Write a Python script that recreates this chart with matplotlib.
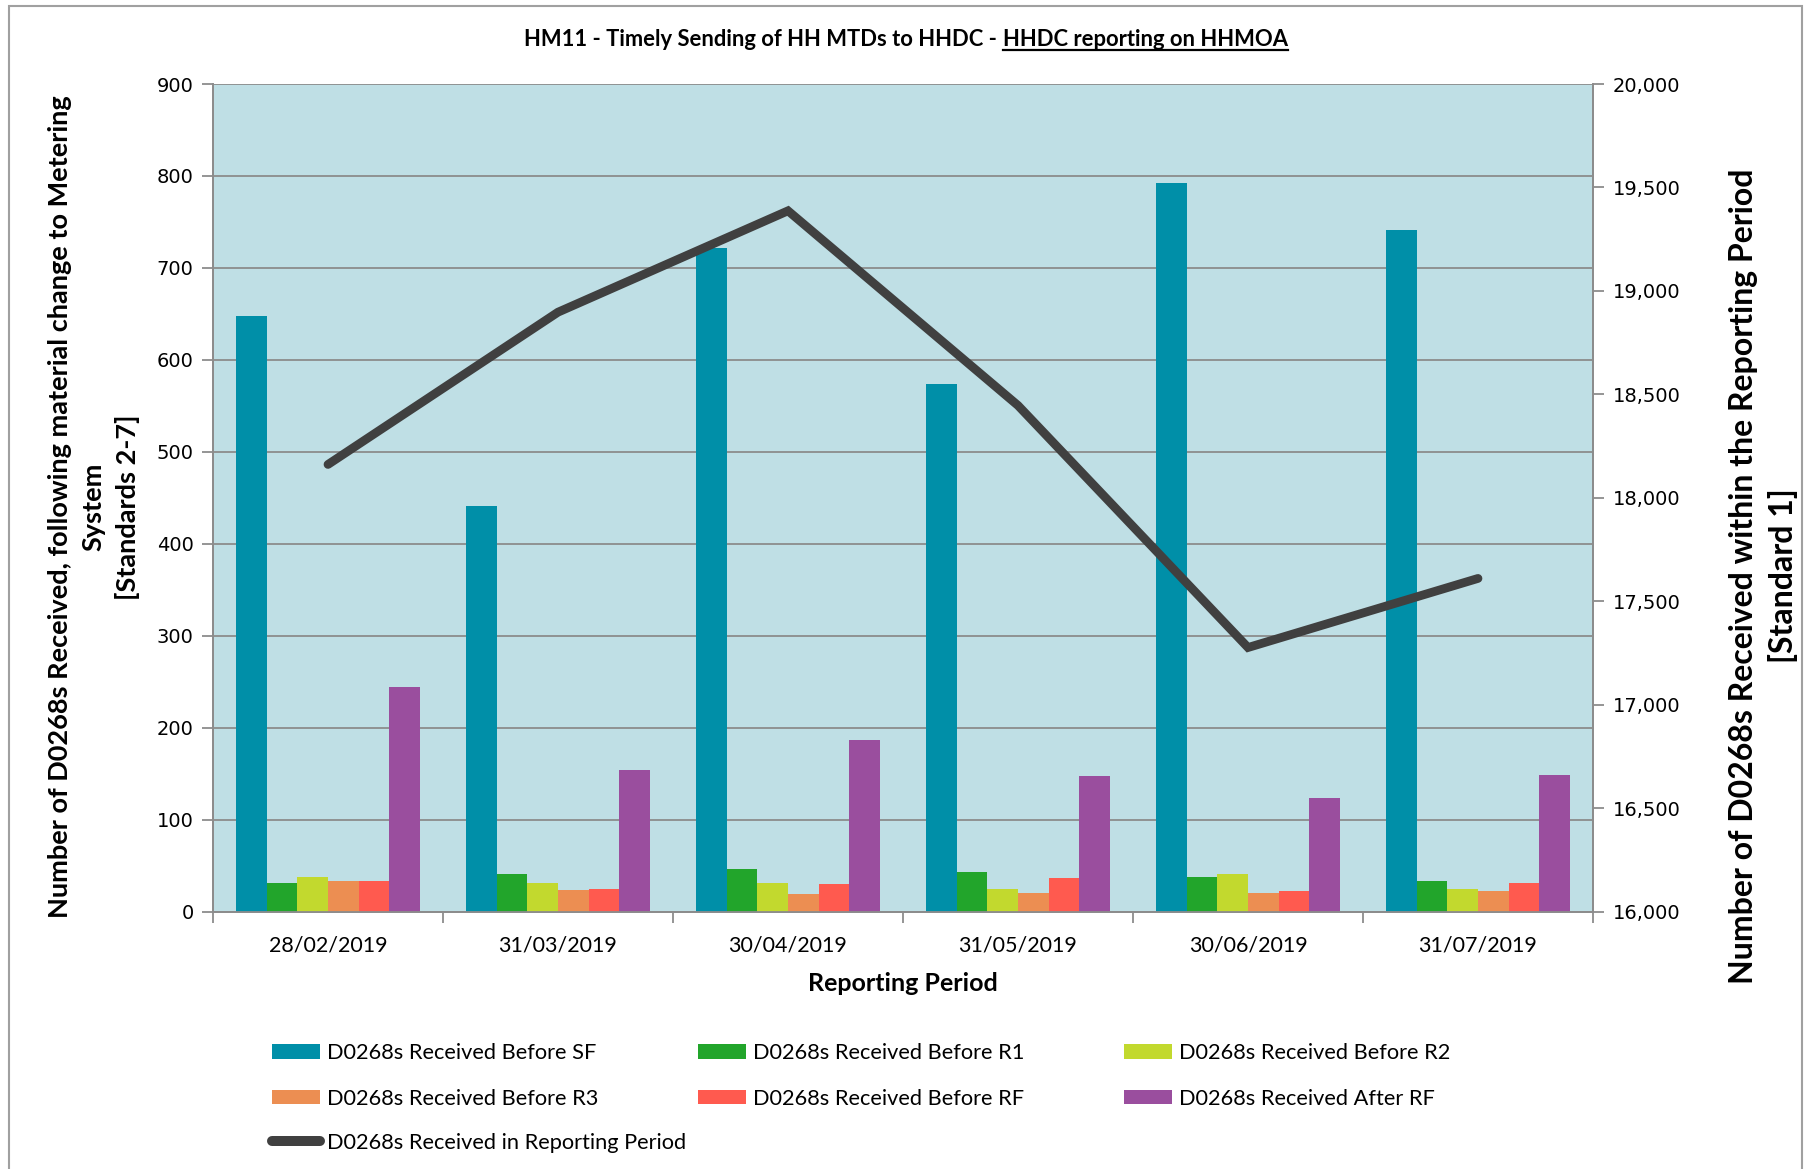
import numpy as np
import matplotlib
matplotlib.use('Agg')
import matplotlib.pyplot as plt
from matplotlib.lines import Line2D
from matplotlib.patches import Rectangle

plt.rcParams['font.family'] = ['Lato', 'DejaVu Sans']

periods = ['28/02/2019', '31/03/2019', '30/04/2019', '31/05/2019', '30/06/2019', '31/07/2019']
before_sf = [648, 441, 722, 574, 792, 741]
before_r1 = [31, 41, 46, 43, 38, 33]
before_r2 = [38, 31, 31, 25, 41, 25]
before_r3 = [33, 23, 19, 20, 20, 22]
before_rf = [33, 24, 30, 36, 22, 31]
after_rf = [244, 154, 187, 147, 123, 149]
in_period = [18161, 18897, 19387, 18446, 17276, 17610]

bar_series = [
    ('D0268s Received Before SF', before_sf, '#008FA8'),
    ('D0268s Received Before R1', before_r1, '#22A52B'),
    ('D0268s Received Before R2', before_r2, '#C2D92E'),
    ('D0268s Received Before R3', before_r3, '#EC8E52'),
    ('D0268s Received Before RF', before_rf, '#FF5A4F'),
    ('D0268s Received After RF', after_rf, '#9A4E9E'),
]

W, H = 1807, 1169
fig = plt.figure(figsize=(W / 100, H / 100), dpi=100)
fig.patch.set_facecolor('white')

# outer chart border
fig.add_artist(Rectangle((9 / W, -0.05), (1802 - 9) / W, 0.05 + (H - 6) / H, transform=fig.transFigure,
                         fill=False, edgecolor='#a0a0a0', linewidth=1.5))

ax = fig.add_axes([213 / W, 1 - 911.5 / H, (1593 - 213) / W, (911.5 - 84) / H])
ax.set_facecolor('#BFDFE5')
ax2 = ax.twinx()

x = np.arange(len(periods))
w = 0.8 / 6
handles = []
for i, (name, vals, col) in enumerate(bar_series):
    b = ax.bar(x + (i - 2.5) * w, vals, w, color=col, label=name, zorder=3)
    handles.append(b)

ln, = ax2.plot(x, in_period, color='#404040', linewidth=6.3, solid_capstyle='round',
               solid_joinstyle='miter', zorder=4)

ax.set_xlim(-0.5, len(periods) - 0.5)
ax.set_ylim(0, 900)
ax.set_yticks(np.arange(0, 901, 100))
ax2.set_ylim(16000, 20000)
ax2.set_yticks(np.arange(16000, 20001, 500))
ax2.set_yticklabels([f'{v:,}' for v in range(16000, 20001, 500)])

ax.grid(axis='y', color='#8c8c8c', linewidth=1.3, zorder=1)
ax.set_axisbelow(True)

ax.set_xticks(x)
ax.set_xticklabels(periods, fontsize=15.5)
ax.set_xticks(np.arange(-0.5, len(periods)), minor=True)
ax.tick_params(axis='x', which='major', length=0, pad=17)
ax.tick_params(axis='x', which='minor', length=8, color='#8c8c8c', width=1.3)

for a in (ax, ax2):
    for s in a.spines.values():
        s.set_color('#8c8c8c')
        s.set_linewidth(1.3)
    a.spines['top'].set_visible(False)
ax.tick_params(axis='y', length=8, color='#8c8c8c', width=1.3, pad=6)
ax2.tick_params(axis='y', length=8, color='#8c8c8c', width=1.3, pad=6)
for lab in ax.get_yticklabels() + ax2.get_yticklabels():
    lab.set_family('DejaVu Sans')
    lab.set_fontsize(14)

ax.set_xlabel('Reporting Period', fontsize=18, fontweight='bold', labelpad=12)

fig.text(94 / W, 1 - 507 / H,
         'Number of D0268s Received, following material change to Metering\nSystem\n[Standards 2-7]',
         rotation=90, ha='center', va='center', multialignment='center',
         fontsize=19.5, fontweight='bold', linespacing=1.45)
fig.text(1763 / W, 1 - 576 / H,
         'Number of D0268s Received within the Reporting Period\n[Standard 1]',
         rotation=90, ha='center', va='center', multialignment='center',
         fontsize=23, fontweight='bold', linespacing=1.4)

# legend for the bars, row-major order in 3 columns
order = [0, 3, 1, 4, 2, 5]
leg = fig.legend([handles[o] for o in order], [bar_series[o][0] for o in order], ncol=3,
                 loc='upper left', bbox_to_anchor=(272 / W, 1 - 1043 / H),
                 frameon=False, fontsize=15.7, handlelength=2.2, handleheight=0.65,
                 handletextpad=0.3, columnspacing=4.6, labelspacing=1.17,
                 borderpad=0, borderaxespad=0)
ln_handle = Line2D([0], [0], color='#404040', linewidth=7.2, solid_capstyle='round')
fig.legend([ln_handle], ['D0268s Received in Reporting Period'], loc='upper left',
           bbox_to_anchor=(272 / W, 1 - 1133 / H), frameon=False, fontsize=15.7,
           handlelength=2.2, handletextpad=0.3, borderpad=0, borderaxespad=0)

# title with underlined second part
part1 = 'HM11 - Timely Sending of HH MTDs to HHDC - '
part2 = 'HHDC reporting on HHMOA'
ty = 1 - 40 / H
t1 = fig.text(0, ty, part1, fontsize=15.8, fontweight='bold', va='center', ha='left')
t2 = fig.text(0, ty, part2, fontsize=15.8, fontweight='bold', va='center', ha='left')
fig.canvas.draw()
r = fig.canvas.get_renderer()
w1 = t1.get_window_extent(r).width
w2 = t2.get_window_extent(r).width
x0 = 906 - (w1 + w2) / 2
t1.set_x(x0 / W)
t2.set_x((x0 + w1) / W)
fig.canvas.draw()
bb = t2.get_window_extent(r)
uy = (bb.y0 + 1) / H
fig.add_artist(Line2D([bb.x0 / W, bb.x1 / W], [uy, uy], transform=fig.transFigure,
                      color='black', linewidth=1.6))

fig.savefig('out.png', dpi=100)
